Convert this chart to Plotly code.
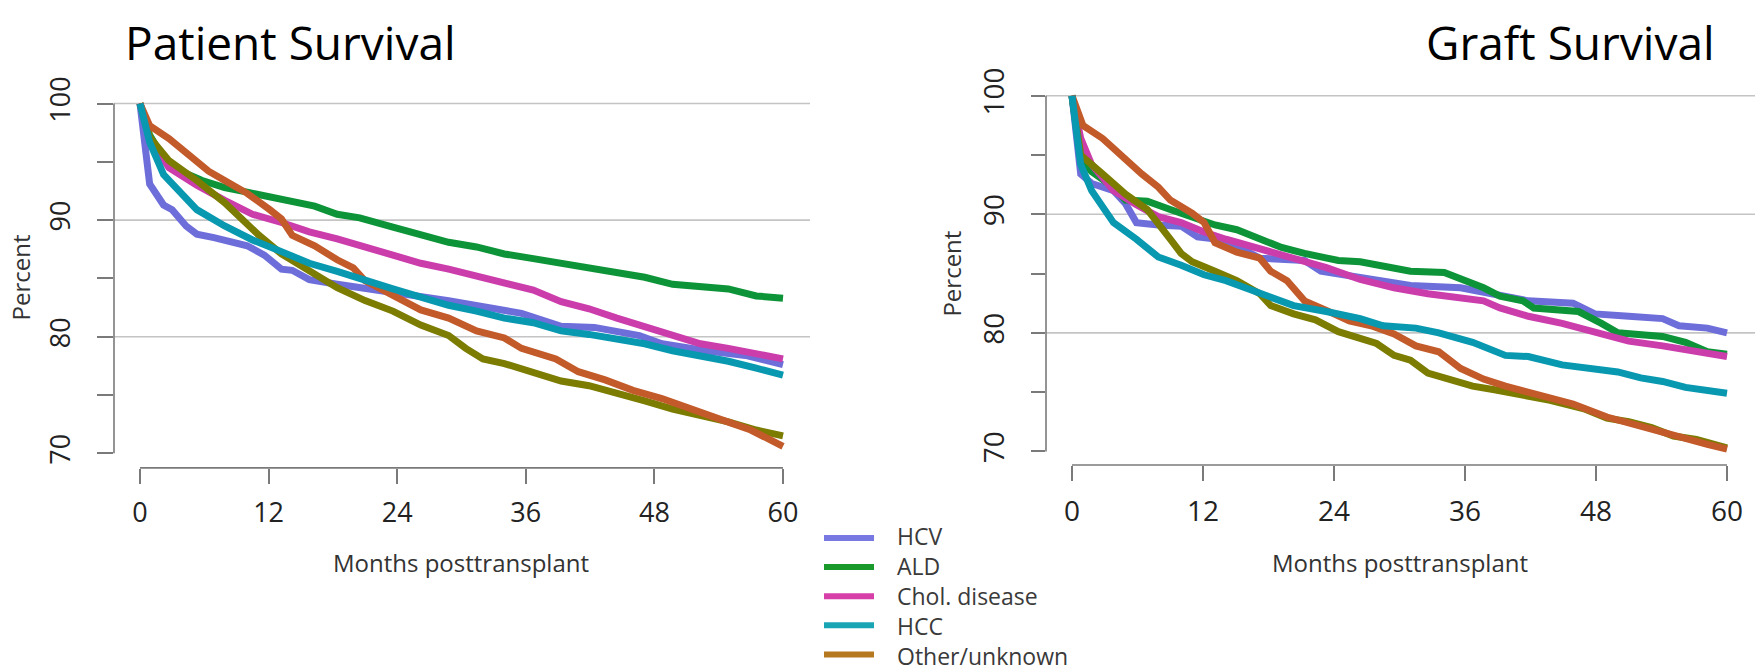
import plotly.graph_objects as go

W, H = 1757, 671

# ---------------- data ----------------
categories = ["HCV", "ALD", "Chol. disease", "HCC", "Other/unknown"]
month_ticks = [0, 12, 24, 36, 48, 60]
pct_ticks = [70, 75, 80, 85, 90, 95, 100]
pct_tick_text = ["70", "", "80", "", "90", "", "100"]

# Patient survival
ps_hcv_m = [0, 0.9, 2.2, 3, 4.3, 5.3, 6.9, 9, 10, 11.6, 13.2, 14.2, 15.8, 18.4, 21, 23.6, 28.8, 35.6, 39.3, 42.4, 46.6, 48.7, 52.8, 56.5, 60]
ps_hcv_v = [100, 93.1, 91.3, 90.9, 89.5, 88.8, 88.5, 88.0, 87.8, 87.0, 85.8, 85.7, 84.9, 84.5, 84.1, 83.8, 83.1, 82.0, 80.9, 80.8, 80.1, 79.4, 78.8, 78.4, 77.6]
ps_ald_m = [0, 0.9, 2.2, 3.8, 5.8, 7.9, 10, 12.1, 14.2, 16.3, 18.4, 20.5, 23.6, 26.2, 28.8, 31.4, 34, 36.7, 39.3, 41.9, 44.5, 47.1, 49.7, 52.3, 54.9, 57.5, 60]
ps_ald_v = [100, 97.3, 95.3, 94.2, 93.4, 92.8, 92.4, 92.0, 91.6, 91.2, 90.5, 90.2, 89.4, 88.8, 88.1, 87.7, 87.1, 86.7, 86.3, 85.9, 85.5, 85.1, 84.5, 84.3, 84.1, 83.5, 83.3]
ps_chol_m = [0, 0.9, 2.7, 5.3, 7.9, 10.5, 13.2, 15.8, 18.4, 21, 23.6, 26.2, 28.8, 31.4, 34, 36.7, 39.3, 41.9, 44.5, 47.1, 49.7, 52.3, 54.9, 57.5, 60]
ps_chol_v = [100, 97.0, 94.5, 93.0, 91.7, 90.5, 89.8, 89.0, 88.4, 87.7, 87.0, 86.3, 85.8, 85.2, 84.5, 84.0, 83.0, 82.4, 81.6, 80.9, 80.2, 79.4, 79.0, 78.5, 78.1]
ps_hcc_m = [0, 0.9, 2.2, 3.8, 5.3, 7.9, 10.5, 13.2, 15.8, 18.4, 21, 23.6, 26.2, 28.8, 31.4, 34, 36.7, 39.3, 41.9, 44.5, 47.1, 49.7, 52.3, 54.9, 57.5, 60]
ps_hcc_v = [100, 96.7, 93.9, 92.3, 90.9, 89.5, 88.3, 87.3, 86.3, 85.6, 84.8, 84.1, 83.4, 82.7, 82.2, 81.6, 81.2, 80.5, 80.2, 79.8, 79.4, 78.8, 78.4, 77.9, 77.3, 76.7]
ps_oth_m = [0, 0.9, 2.7, 5.3, 7.9, 9.5, 11.1, 13.2, 15.8, 18.4, 21, 23.6, 26.2, 28.8, 30.4, 32, 34, 36.7, 39.3, 41.9, 44.5, 47.1, 49.7, 52.3, 54.9, 57.5, 60]
ps_oth_v = [100, 97.1, 95.1, 93.4, 91.5, 90.1, 88.7, 87.1, 85.6, 84.2, 83.1, 82.2, 81.0, 80.1, 79.0, 78.1, 77.7, 77.0, 76.2, 75.8, 75.2, 74.5, 73.8, 73.3, 72.7, 72.0, 71.5]
ps_unk_m = [0, 0.9, 2.7, 4.8, 6.4, 7.9, 10, 12.1, 13.2, 14.2, 16.3, 18.4, 19.9, 21, 23.6, 26.2, 28.8, 31.4, 34, 35.6, 38.8, 40.9, 43.4, 46, 48.7, 51.3, 53.9, 57, 60]
ps_unk_v = [100, 98.1, 97.0, 95.3, 94.2, 93.4, 92.3, 90.9, 90.1, 88.7, 87.8, 86.6, 85.9, 84.8, 83.5, 82.3, 81.6, 80.5, 79.9, 79.0, 78.1, 77.0, 76.3, 75.4, 74.7, 73.8, 73.0, 72.0, 70.6]

# Graft survival
gs_hcv_m = [0, 0.8, 1.8, 3.8, 4.9, 5.9, 7.9, 10, 11.5, 14.1, 17.2, 21.3, 22.8, 27.4, 31, 35.6, 38.7, 41.8, 45.9, 47.9, 51, 54.1, 55.6, 58.2, 60]
gs_hcv_v = [100, 93.4, 92.6, 92.0, 90.9, 89.3, 89.1, 89.0, 88.1, 87.8, 86.3, 86.1, 85.2, 84.5, 84.0, 83.8, 83.3, 82.7, 82.5, 81.6, 81.4, 81.2, 80.6, 80.4, 80.0]
gs_ald_m = [0, 0.8, 1.8, 3.8, 4.9, 6.9, 9, 11, 13.1, 15.1, 17.2, 19.2, 21.3, 24.4, 26.4, 28.5, 31, 34.1, 35.6, 37.7, 39.2, 41.3, 42.3, 46.4, 48.5, 50, 54.1, 56.2, 58.2, 60]
gs_ald_v = [100, 94.7, 93.6, 92.3, 91.2, 91.1, 90.4, 89.7, 89.1, 88.7, 87.9, 87.2, 86.7, 86.1, 86.0, 85.6, 85.2, 85.1, 84.6, 83.8, 83.1, 82.7, 82.1, 81.8, 80.8, 80.0, 79.7, 79.2, 78.4, 78.2]
gs_chol_m = [0, 0.8, 1.8, 3.8, 5.9, 7.9, 10, 12.1, 14.1, 17.2, 20.3, 23.3, 26.4, 29.5, 32.6, 35.6, 37.7, 39.2, 41.8, 44.9, 47.9, 51, 54.1, 57.2, 60]
gs_chol_v = [100, 96.4, 94.2, 92.0, 90.8, 89.8, 89.3, 88.5, 87.9, 87.1, 86.4, 85.5, 84.5, 83.8, 83.3, 83.0, 82.7, 82.1, 81.4, 80.8, 80.1, 79.3, 78.9, 78.4, 78.0]
gs_hcc_m = [0, 0.8, 1.8, 2.8, 3.8, 5.9, 7.9, 10, 12.1, 14.1, 16.2, 18.2, 20.3, 23.3, 26.4, 28.5, 31.5, 33.6, 36.7, 39.7, 41.8, 44.9, 47.9, 50, 52.1, 54.1, 56.2, 58.2, 60]
gs_hcc_v = [100, 94.2, 92.0, 90.6, 89.3, 87.9, 86.4, 85.7, 84.9, 84.4, 83.7, 82.9, 82.3, 81.8, 81.2, 80.6, 80.4, 80.0, 79.2, 78.1, 78.0, 77.3, 76.9, 76.7, 76.2, 75.9, 75.4, 75.2, 74.9]
gs_oth_m = [0, 0.8, 2.8, 4.9, 6.9, 7.9, 9, 10, 11, 13.1, 15.1, 17.2, 18.2, 20.3, 22.3, 24.4, 26.4, 27.9, 29.5, 31, 32.6, 34.6, 36.7, 38.7, 41.8, 43.8, 46.9, 49, 51, 53.1, 55.1, 57.2, 60]
gs_oth_v = [100, 95.0, 93.4, 91.7, 90.4, 89.3, 87.9, 86.7, 86.0, 85.2, 84.4, 83.3, 82.3, 81.6, 81.1, 80.1, 79.6, 79.1, 78.1, 77.7, 76.6, 76.1, 75.5, 75.2, 74.7, 74.3, 73.6, 72.8, 72.5, 72.0, 71.3, 71.0, 70.3]
gs_unk_m = [0, 1, 2.8, 4.4, 5.4, 6.4, 7.9, 9, 11, 12.1, 13.1, 15.1, 17.2, 18.2, 19.7, 21.3, 23.3, 25.4, 27.4, 29.5, 31.5, 33.6, 35.6, 37.7, 39.7, 42.8, 45.9, 49, 52.1, 55.1, 58.2, 60]
gs_unk_v = [100, 97.5, 96.4, 95.0, 94.3, 93.4, 92.3, 91.2, 90.1, 89.3, 87.6, 86.8, 86.3, 85.2, 84.4, 82.7, 81.9, 81.0, 80.6, 79.9, 78.9, 78.4, 77.0, 76.1, 75.5, 74.8, 74.0, 72.9, 72.1, 71.3, 70.6, 70.2]

# ---------------- styles ----------------
line_colors = {
    "HCV": "#6E6EDB", "ALD": "#0E9438", "Chol": "#CC3DAC", "HCC": "#0898B0",
    "Other": "#7B7C00", "Unknown": "#C35A2A",
}
legend_colors = ["#7878E2", "#1A9A2A", "#D63FA8", "#1AA5B5", "#B7791F"]

FONT = "Open Sans"
TITLE_FONT = "Open Sans"
AXIS_COL = "#7a7a7a"
GRID_COL = "#c4c4c4"


def pxx(x):
    return x / W


def pyy(y):
    return 1 - y / H


panels = [
    dict(xa="x", ya="y", x0=140, x60=783, left=114, right=810, y100=87, y70=447,
         top=78, bottom=462, ticklen_y=16, ticklen_x=15, tsize=27,
         series=[("HCV", ps_hcv_m, ps_hcv_v), ("ALD", ps_ald_m, ps_ald_v),
                 ("Chol", ps_chol_m, ps_chol_v), ("Other", ps_oth_m, ps_oth_v),
                 ("Unknown", ps_unk_m, ps_unk_v), ("HCC", ps_hcc_m, ps_hcc_v)]),
    dict(xa="x2", ya="y2", x0=1072, x60=1727, left=1046, right=1755, y100=79, y70=445,
         top=70, bottom=459, ticklen_y=14, ticklen_x=15, tsize=28,
         series=[("HCV", gs_hcv_m, gs_hcv_v), ("ALD", gs_ald_m, gs_ald_v),
                 ("Chol", gs_chol_m, gs_chol_v), ("Other", gs_oth_m, gs_oth_v),
                 ("Unknown", gs_unk_m, gs_unk_v), ("HCC", gs_hcc_m, gs_hcc_v)]),
]

fig = go.Figure()
shapes = []
annotations = []
layout_axes = {}

for i, p in enumerate(panels):
    for name, m, v in p["series"]:
        fig.add_trace(go.Scatter(
            x=m, y=v, mode="lines", name=name, showlegend=False,
            line=dict(color=line_colors[name], width=7, shape="linear"),
            xaxis=p["xa"], yaxis=p["ya"], hoverinfo="skip"))
    mx = 60.0 / (p["x60"] - p["x0"])
    vy = 30.0 / (p["y70"] - p["y100"])
    xr = [(p["left"] - p["x0"]) * mx, (p["right"] - p["x0"]) * mx]
    yr = [70 - (p["bottom"] - p["y70"]) * vy, 100 + (p["y100"] - p["top"]) * vy]
    xkey = "xaxis" if i == 0 else "xaxis2"
    ykey = "yaxis" if i == 0 else "yaxis2"
    layout_axes[xkey] = dict(
        domain=[pxx(p["left"]), pxx(p["right"])], range=xr, anchor=p["ya"],
        tickvals=month_ticks, ticks="outside", ticklen=p["ticklen_x"], tickwidth=1.6,
        tickcolor=AXIS_COL, showgrid=False, zeroline=False, showline=False,
        tickfont=dict(family=FONT, size=p["tsize"], color="#222"), ticklabelstandoff=6,
        fixedrange=True)
    layout_axes[ykey] = dict(
        domain=[pyy(p["bottom"]), pyy(p["top"])], range=yr, anchor=p["xa"],
        tickvals=pct_ticks, ticktext=pct_tick_text, tickangle=-90,
        ticks="outside", ticklen=p["ticklen_y"], tickwidth=1.6, tickcolor=AXIS_COL,
        showgrid=False, zeroline=False, showline=False,
        tickfont=dict(family=FONT, size=p["tsize"], color="#222"), ticklabelstandoff=16,
        fixedrange=True)
    # gridlines at 80, 90, 100
    for g in [80, 90, 100]:
        shapes.append(dict(type="line", xref=p["xa"] + " domain", yref=p["ya"],
                           x0=0, x1=1, y0=g, y1=g, layer="below",
                           line=dict(color=GRID_COL, width=1.6)))
    # R-style spines
    shapes.append(dict(type="line", xref=p["xa"] + " domain", yref=p["ya"],
                       x0=0, x1=0, y0=70, y1=100, line=dict(color=AXIS_COL, width=1.6)))
    shapes.append(dict(type="line", xref=p["xa"], yref=p["ya"] + " domain",
                       x0=0, x1=60, y0=0, y1=0, line=dict(color=AXIS_COL, width=1.6)))

# titles
annotations.append(dict(text="Patient Survival", x=pxx(123), y=pyy(24), xref="paper", yref="paper",
                        xanchor="left", yanchor="middle", showarrow=False,
                        font=dict(family=TITLE_FONT, size=46, color="#000")))
annotations.append(dict(text="Graft Survival", x=pxx(1717), y=pyy(24), xref="paper", yref="paper",
                        xanchor="right", yanchor="middle", showarrow=False,
                        font=dict(family=TITLE_FONT, size=46, color="#000")))
# axis titles
for (xc, yc) in [(20, 266), (952, 262)]:
    annotations.append(dict(text="Percent", x=pxx(xc), y=pyy(yc), xref="paper", yref="paper",
                            textangle=-90, showarrow=False, xanchor="center", yanchor="middle",
                            font=dict(family=FONT, size=24, color="#333")))
for xc in [461, 1400]:
    annotations.append(dict(text="Months posttransplant", x=pxx(xc), y=pyy(559), xref="paper",
                            yref="paper", showarrow=False, xanchor="center", yanchor="middle",
                            font=dict(family=FONT, size=24, color="#333")))

# legend (drawn manually to match the long line samples of the original)
leg_y = [534, 564, 594, 624, 654]
for col, yv in zip(legend_colors, leg_y):
    shapes.append(dict(type="line", xref="paper", yref="paper", x0=pxx(824), x1=pxx(874),
                       y0=pyy(yv), y1=pyy(yv), line=dict(color=col, width=6)))
annotations.append(dict(text="<br>".join(categories), x=pxx(895),
                        y=pyy((leg_y[0] + leg_y[-1]) / 2), xref="paper", yref="paper",
                        xanchor="left", yanchor="middle", align="left", showarrow=False,
                        font=dict(family=FONT, size=23, color="#3a3a3a")))

fig.update_layout(
    width=W, height=H, autosize=False,
    margin=dict(l=0, r=0, t=0, b=0),
    paper_bgcolor="white", plot_bgcolor="white",
    shapes=shapes, annotations=annotations, showlegend=False,
    **layout_axes,
)

fig.write_html("out.html", config={"displayModeBar": False})
